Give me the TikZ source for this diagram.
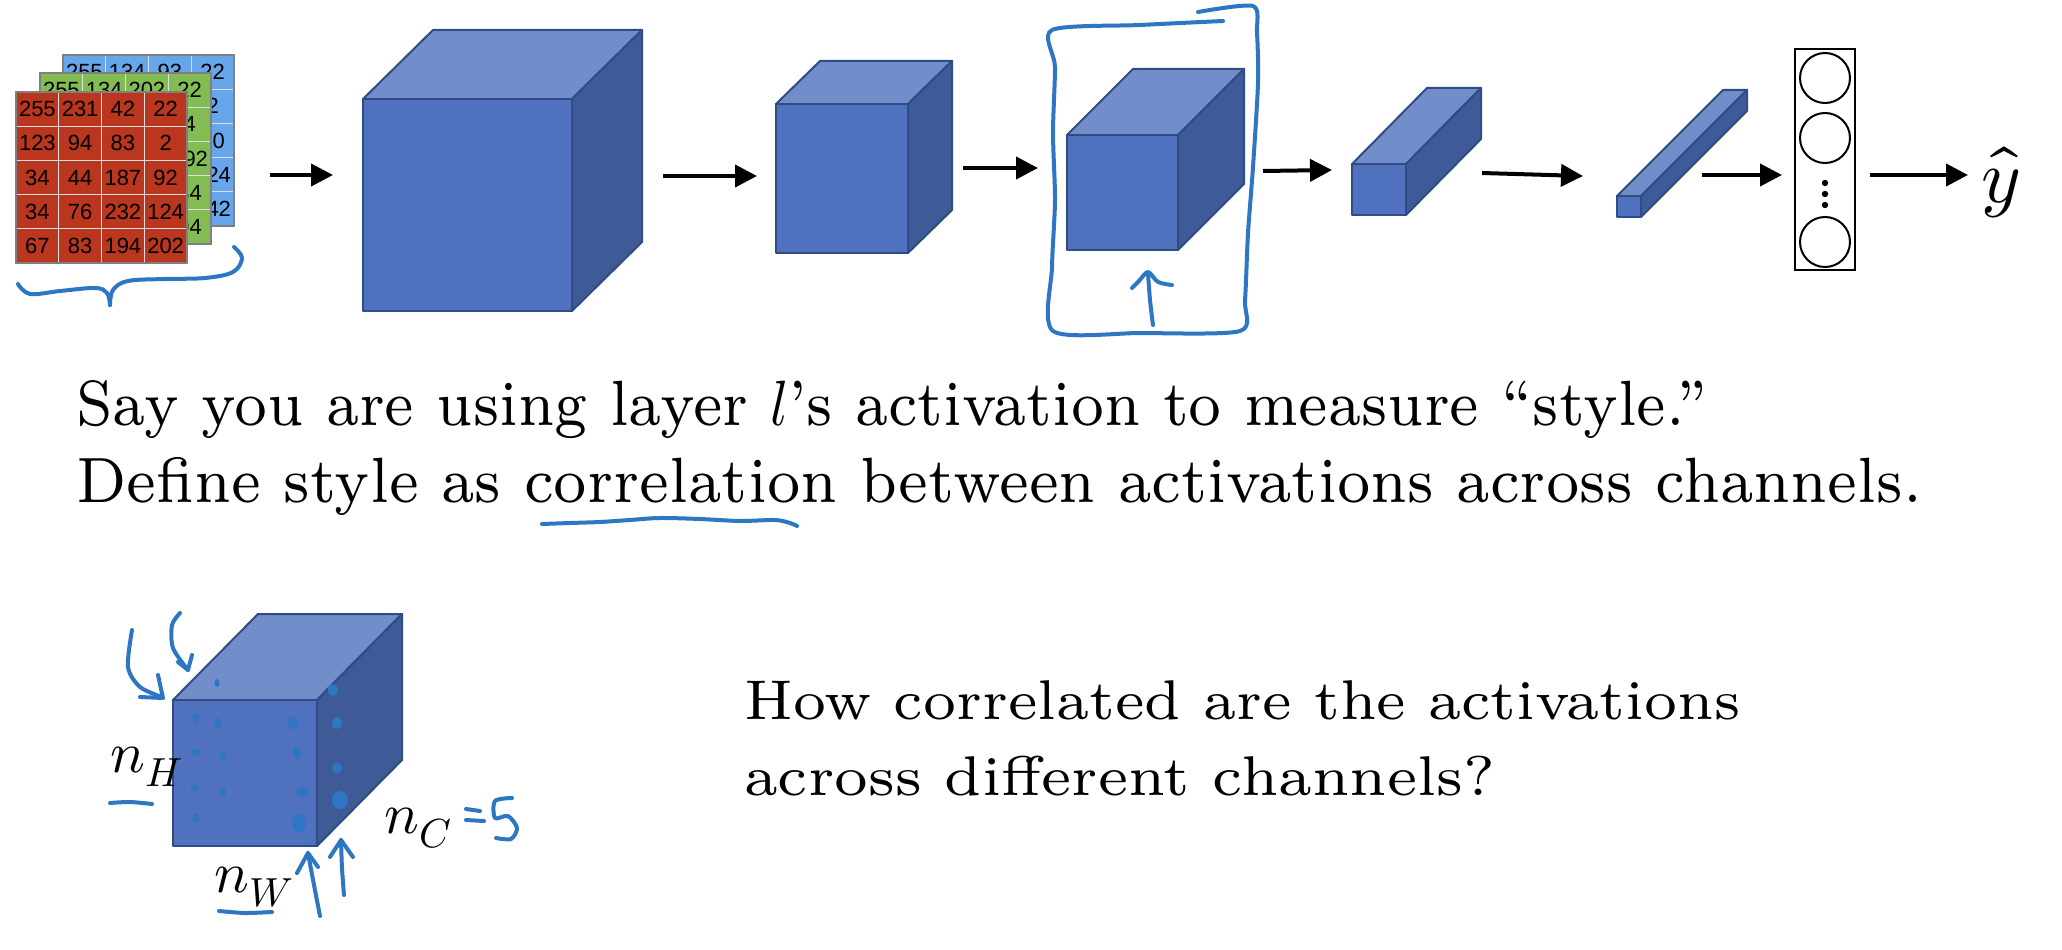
\documentclass[tikz,border=0pt]{standalone}
\usepackage{fontspec}
\usepackage{unicode-math}
\usepackage{graphicx}
\newfontfamily\gridfont{Liberation Sans}
\newfontfamily\sturdy{lmroman7-regular}[Extension=.otf,Ligatures=TeX]
\usetikzlibrary{arrows.meta}
\definecolor{cubefront}{RGB}{79,113,190}
\definecolor{cubetop}{RGB}{113,142,203}
\definecolor{cubeside}{RGB}{62,91,151}
\definecolor{cubeedge}{RGB}{47,76,133}
\definecolor{hand}{RGB}{46,117,196}
\definecolor{gridred}{RGB}{186,54,30}
\definecolor{gridgreen}{RGB}{130,188,82}
\definecolor{gridblue}{RGB}{104,166,236}
\tikzset{
  cubeline/.style={draw=cubeedge,line width=2pt,line join=round},
  arr/.style={line width=4pt,-{Triangle[length=22pt,width=22pt]}},
  handline/.style={draw=hand,line width=4pt,line cap=round,line join=round},
  gridinner/.style={draw=white!75!gray,line width=1.2pt},
  gridborder/.style={draw=gray,line width=1.5pt},
  gridnum/.style={inner sep=0pt,text=black,font=\gridfont\fontsize{22}{22}\selectfont},
  bigtext/.style={anchor=base west,inner sep=0pt,font=\sturdy\fontsize{64}{77}\selectfont},
  midtext/.style={anchor=base west,inner sep=0pt,font=\sturdy\fontsize{56}{68}\selectfont},
  mathlabel/.style={anchor=base west,inner sep=0pt,font=\fontsize{58}{62}\selectfont},
  dot/.style={fill=hand}
}
\newcommand\drawcube[7]{%
  \draw[cubeline,fill=cubetop] (#2,#3) -- ++(#6,#7) -- ({#4+#6},{#3+#7}) -- (#4,#3) -- cycle;
  \draw[cubeline,fill=cubeside] (#4,#3) -- ++(#6,#7) -- ({#4+#6},{#5+#7}) -- (#4,#5) -- cycle;
  \draw[cubeline,fill=cubefront] (#2,#3) rectangle (#4,#5);
  \coordinate (#1) at ({(#2+#4)/2},{(#3+#5)/2});
}
\newcommand\drawgrid[5]{%
  \fill[#4] (#2,#3) rectangle ++(171,171);
  \foreach \k in {1,2,3} \draw[gridinner] ({#2+\k*42.75},#3) -- ++(0,171);
  \foreach \k in {1,...,4} \draw[gridinner] (#2,{#3+\k*34.2}) -- ++(171,0);
  \draw[gridborder] (#2,#3) rectangle ++(171,171);
  \foreach \row [count=\i] in {#5} {
    \foreach \v [count=\j] in \row {
      \node[gridnum] (#1-\i-\j) at ({#2+(\j-0.5)*42.75},{#3+(\i-0.5)*34.2}) {\v};
    }
  }
}
\begin{document}
\begin{tikzpicture}[x=1pt,y=-1pt]
\fill[white] (0,0) rectangle (2062,950);
\useasboundingbox (0,0) rectangle (2062,950);

% input image layers
\drawgrid{b}{63}{55}{gridblue}{{255,134,93,22},{123,94,83,2},{34,44,187,30},{34,76,232,124},{67,83,194,142}}
\drawgrid{g}{40}{73}{gridgreen}{{255,134,202,22},{123,94,83,4},{34,44,187,192},{34,76,232,34},{67,83,194,94}}
\drawgrid{r}{16}{92}{gridred}{{255,231,42,22},{123,94,83,2},{34,44,187,92},{34,76,232,124},{67,83,194,202}}

% brace under image
\draw[handline] plot[smooth,tension=0.6] coordinates {(18,284) (30,294) (60,291) (95,288) (107,293) (110,305)};
\draw[handline] plot[smooth,tension=0.6] coordinates {(110,305) (113,290) (128,281) (165,279) (205,278) (233,272) (242,258) (234,247)};

% cubes
\drawcube{c1}{363}{99}{572}{311}{70}{-69}
\drawcube{c2}{776}{104}{908}{253}{44}{-43}
\drawcube{c3}{1067}{135}{1178}{250}{66}{-66}
\drawcube{c4}{1352}{164}{1406}{215}{75}{-76}
\drawcube{c5}{1617}{196}{1641}{217}{106}{-106}

% fully connected column
\node[draw,line width=2pt,minimum width=60pt,minimum height=221pt,inner sep=0pt] (fc) at (1825,159.5) {};
\node[draw,circle,line width=2pt,minimum size=50pt,inner sep=0pt] (o1) at (1825,78) {};
\node[draw,circle,line width=2pt,minimum size=50pt,inner sep=0pt] (o2) at (1825,138) {};
\node[draw,circle,line width=2pt,minimum size=50pt,inner sep=0pt] (o3) at (1825,242) {};
\fill (1825,183) circle (3.2) (1825,194) circle (3.2) (1825,205) circle (3.2);

\node[anchor=base,inner sep=0pt,font=\fontsize{76}{76}\selectfont] (yhat) at (2001,202) {$\hat{y}$};

% arrows
\coordinate (a1s) at (270,175); \coordinate (a1e) at (333,175);
\coordinate (a2s) at (663,176); \coordinate (a2e) at (757,176);
\coordinate (a3s) at (963,168); \coordinate (a3e) at (1038,168);
\coordinate (a4s) at (1263,171); \coordinate (a4e) at (1332,170);
\coordinate (a5s) at (1482,173); \coordinate (a5e) at (1583,176);
\coordinate (a6s) at (1702,175); \coordinate (a6e) at (1782,175);
\coordinate (a7s) at (1870,175); \coordinate (a7e) at (1968,175);
\draw[arr] (a1s) -- (a1e);
\draw[arr] (a2s) -- (a2e);
\draw[arr] (a3s) -- (a3e);
\draw[arr] (a4s) -- (a4e);
\draw[arr] (a5s) -- (a5e);
\draw[arr] (a6s) -- (a6e);
\draw[arr] (a7s) -- (a7e);

% hand box around layer l
\draw[handline] plot[smooth,tension=0.45] coordinates {(1223,21) (1140,25) (1052,30) (1055,67) (1053,133) (1055,200) (1052,267) (1053,331) (1140,333) (1240,331) (1245,300) (1248,233) (1253,167) (1258,83) (1257,33) (1253,6) (1198,12)};
\draw[handline] plot[smooth] coordinates {(1153,325) (1150,300) (1148,273)};
\draw[handline] plot[smooth] coordinates {(1132,288) (1139,281) (1148,272) (1158,282) (1172,285)};

% text
\node[bigtext] (t1) at (76,425) {\resizebox{1631pt}{\height}{Say you are using layer {\normalfont$l$}’s activation to measure ``style.''}};
\node[bigtext] (t2) at (76,502) {\resizebox{1846pt}{\height}{Define style as correlation between activations across channels.}};
\draw[handline] plot[smooth] coordinates {(542,524) (570,523) (600,522) (630,520) (660,518) (700,519) (740,521) (775,520) (790,523) (797,526)};

\node[midtext] (t3) at (744,719) {\resizebox{996pt}{\height}{How correlated are the activations}};
\node[midtext] (t4) at (744,795) {\resizebox{751pt}{\height}{across different channels?}};

% bottom cube
\drawcube{c6}{173}{700}{317}{846}{85}{-86}
\foreach \px/\py/\rx/\ry in {196/718/3.5/5, 218/723/3.5/5, 293/723/5/6.5, 196/752/4.5/3.5, 223/757/3/5, 297/753/4/6, 195/788/4.5/3.5, 223/792/3/5, 302/792/6/4.5, 196/818/3.5/4.5, 299/823/7/9, 333/690/5/6, 337/723/5/6, 337/768/5/5.5, 340/800/8/9, 217/683/2.5/4}
  \fill[dot] (\px,\py) ellipse[x radius=\rx,y radius=\ry];

\node[mathlabel] (nH) at (110,772) {$n_H$};
\node[mathlabel] (nW) at (214,892) {$n_W$};
\node[mathlabel] (nC) at (384,833) {$n_C$};
\draw[handline] plot[smooth] coordinates {(110,803) (130,802) (152,804)};
\draw[handline] plot[smooth] coordinates {(219,911) (245,913) (272,912)};
% =5
\draw[handline] (466,809) -- (480,811);
\draw[handline] (466,820) -- (484,821);
\draw[handline] plot[smooth,tension=0.5] coordinates {(512,798) (495,801) (495,818) (508,816) (517,828) (511,839) (496,838)};

% hand arrows on bottom cube
\draw[handline] plot[smooth] coordinates {(132,630) (128,667) (140,687) (162,697)};
\draw[handline] (158,675) -- (163,698) -- (140,697);
\draw[handline] plot[smooth] coordinates {(180,613) (172,625) (173,648) (188,670)};
\draw[handline] (178,662) -- (188,670) -- (192,655);
\draw[handline] plot[smooth] coordinates {(320,916) (314,885) (308,853)};
\draw[handline] (297,873) -- (308,853) -- (318,867);
\draw[handline] plot[smooth] coordinates {(344,895) (342,868) (341,840)};
\draw[handline] (330,857) -- (341,840) -- (353,857);
\end{tikzpicture}
\end{document}
